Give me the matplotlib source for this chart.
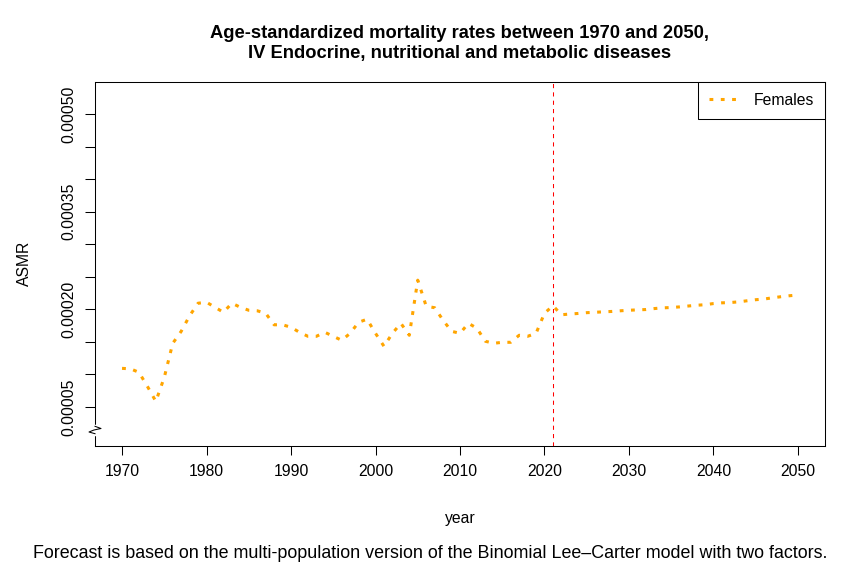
import numpy as np
import matplotlib
matplotlib.use("Agg")
import matplotlib.pyplot as plt
from matplotlib.lines import Line2D
from matplotlib.ticker import FixedLocator, FixedFormatter

plt.rcParams["font.family"] = ["Liberation Sans", "DejaVu Sans"]

# observed ASMR, 1970-2021
years_obs = list(range(1970, 2022))
asmr_obs = [
    0.0001094, 0.0001087, 0.0001033, 0.0000818, 0.0000587, 0.0000956,
    0.0001478, 0.0001662, 0.0001902, 0.0002094, 0.0002109, 0.0002032,
    0.0001955, 0.0002094, 0.0002032, 0.0001986, 0.0001978, 0.0001940,
    0.0001763, 0.0001763, 0.0001725, 0.0001648, 0.0001586, 0.0001586,
    0.0001648, 0.0001586, 0.0001525, 0.0001632, 0.0001802, 0.0001848,
    0.0001632, 0.0001433, 0.0001632, 0.0001786, 0.0001602, 0.0002448,
    0.0002048, 0.0002025, 0.0001832, 0.0001663, 0.0001632, 0.0001786,
    0.0001710, 0.0001510, 0.0001479, 0.0001494, 0.0001494, 0.0001602,
    0.0001586, 0.0001632, 0.0001940, 0.0002055,
]
# forecast, 2022-2050
years_fc = list(range(2022, 2051))
asmr_fc = [
    0.0001917, 0.0001928, 0.0001937, 0.0001949, 0.0001955, 0.0001962,
    0.0001968, 0.0001978, 0.0001986, 0.0001992, 0.0001997, 0.0002012,
    0.0002023, 0.0002028, 0.0002038, 0.0002051, 0.0002063, 0.0002071,
    0.0002089, 0.0002100, 0.0002105, 0.0002115, 0.0002132, 0.0002148,
    0.0002158, 0.0002178, 0.0002194, 0.0002209, 0.0002220,
]
jump_off = 2021

xticks = [1970, 1980, 1990, 2000, 2010, 2020, 2030, 2040, 2050]
yticks = [0.00005 * i for i in range(1, 11)]
ytick_labels = ["0.00005", "", "", "0.00020", "", "",
                "0.00035", "", "", "0.00050"]

W, H = 867, 576
fig = plt.figure(figsize=(W / 100, H / 100), dpi=100)
L, R, T, B = 95, 825, 81.7, 446
ax = fig.add_axes([L / W, 1 - B / H, (R - L) / W, (B - T) / H])

years = years_obs + years_fc
asmr = asmr_obs + asmr_fc
ax.plot(years, asmr, color="#FFA500", lw=2.2,
        linestyle=(0, (1.25, 2.45)), dash_capstyle="butt", label="Females")
ax.axvline(jump_off, color="red", lw=0.75, linestyle=(0, (4, 4)))

ax.set_xlim(1966.8, 2053.2)
ax.set_ylim(-0.0000098, 0.0005495)

fs = 11.3
ax.xaxis.set_major_locator(FixedLocator(xticks))
ax.yaxis.set_major_locator(FixedLocator(yticks))
ax.yaxis.set_major_formatter(FixedFormatter(ytick_labels))
ax.tick_params(axis="x", length=6.3, width=0.75, labelsize=fs, pad=7)
ax.tick_params(axis="y", length=7.3, width=0.75, labelsize=fs, pad=6,
               labelrotation=90)
for lab in ax.get_yticklabels():
    lab.set_va("center")
for sp in ax.spines.values():
    sp.set_linewidth(0.75)

# axis break zigzag (figure pixels)
def fp(px, py):
    return px / W, 1 - py / H

gap = [fp(95, 426.3), fp(95, 433.7)]
fig.add_artist(Line2D([p[0] for p in gap], [p[1] for p in gap],
                      color="white", lw=2.5, zorder=5))
zz = [fp(95, 426.3), fp(101, 428.5), fp(94, 430), fp(89, 432), fp(95, 433.7)]
fig.add_artist(Line2D([p[0] for p in zz], [p[1] for p in zz],
                      color="black", lw=0.75, zorder=6))

ax.legend(loc="upper right", borderaxespad=0, fancybox=False,
          edgecolor="black", framealpha=1, fontsize=fs,
          handlelength=1.8, handletextpad=1.05, borderpad=0.7)
ax.get_legend().get_frame().set_linewidth(0.75)

ax.set_ylabel("ASMR", fontsize=fs, labelpad=21)
ax.set_xlabel("year", fontsize=fs, labelpad=23)

fig.text(460 / W, 1 - 37.7 / H, "Age-standardized mortality rates between 1970 and 2050,",
         ha="center", va="baseline", fontsize=13.2, fontweight="bold")
fig.text(460 / W, 1 - 57.7 / H, "IV Endocrine, nutritional and metabolic diseases",
         ha="center", va="baseline", fontsize=13.2, fontweight="bold")
fig.text(430.5 / W, 1 - 553 / H,
         "Forecast is based on the multi-population version of the Binomial Lee\u2013Carter model with two factors.",
         ha="center", va="center", fontsize=12.9)

fig.savefig("out.png", dpi=100, facecolor="white")
